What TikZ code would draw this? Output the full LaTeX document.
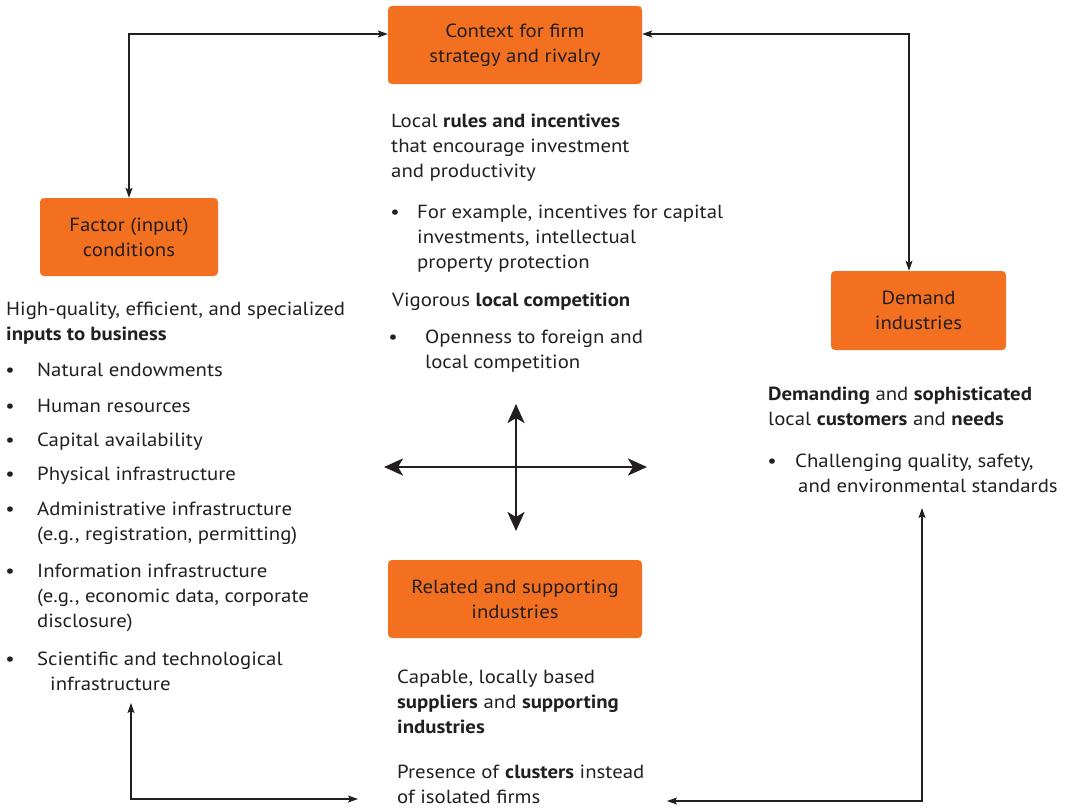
\documentclass[tikz,border=0pt]{standalone}
\usepackage{fontspec}
\setmainfont[FakeStretch=1.095]{PT Sans}
\usetikzlibrary{arrows.meta}
\definecolor{porange}{HTML}{F37021}
\definecolor{ink}{HTML}{231F20}

\begin{document}
\begin{tikzpicture}[x=1pt,y=-1pt,
  every node/.style={text=ink, inner sep=0pt, font=\fontsize{19}{25}\selectfont},
  box/.style={fill=porange, rounded corners=4pt, align=center, minimum height=78pt},
  para/.style={anchor=north west, align=left},
  dot/.style={anchor=base},
  con/.style={draw=ink, line width=1.2pt, {Stealth[length=10pt,width=7pt,inset=2pt]}-{Stealth[length=10pt,width=7pt,inset=2pt]}},
  crossarrow/.style={draw=ink, line width=2.8pt, {Stealth[length=19pt,width=17pt,inset=5pt]}-{Stealth[length=19pt,width=17pt,inset=5pt]}}
]
\useasboundingbox (0,0) rectangle (1070,808);

% the four determinants
\node[box, minimum width=254pt] (context) at (515,45) {Context for firm\\strategy and rivalry};
\node[box, minimum width=178pt] (factor) at (129,237) {Factor (input)\\conditions};
\node[box, minimum width=175pt, minimum height=79pt] (demand) at (918.5,310.5) {Demand\\industries};
\node[box, minimum width=254pt] (related) at (515,599) {Related and supporting\\industries};

% context for firm strategy and rivalry
\node[para] (c1) at (391,109.5) {\strut Local \textbf{rules and incentives}\\that encourage investment\\and productivity};
\node[dot] (c2b) at (395,218) {\textbullet};
\node[para] (c2) at (417,200.5) {\strut For example, incentives for capital\\investments, intellectual\\property protection};
\node[para] (c3) at (392,288.5) {\strut Vigorous \textbf{local competition}};
\node[dot] (c4b) at (393,343) {\textbullet};
\node[para] (c4) at (425,325.5) {\strut Openness to foreign and\\local competition};

% factor conditions
\node[para] (f0) at (6,297.5) {\strut High-quality, efficient, and specialized\\\textbf{inputs to business}};
\node[dot] (f1b) at (10,376) {\textbullet};
\node[para] (f1) at (37,358.5) {\strut Natural endowments};
\node[dot] (f2b) at (10,412) {\textbullet};
\node[para] (f2) at (37,394.5) {\strut Human resources};
\node[dot] (f3b) at (10,446) {\textbullet};
\node[para] (f3) at (37,428.5) {\strut Capital availability};
\node[dot] (f4b) at (10,480) {\textbullet};
\node[para] (f4) at (37,462.5) {\strut Physical infrastructure};
\node[dot] (f5b) at (10,515) {\textbullet};
\node[para] (f5) at (37,497.5) {\strut Administrative infrastructure\\(e.g., registration, permitting)};
\node[dot] (f6b) at (10,577) {\textbullet};
\node[para] (f6) at (37,559.5) {\strut Information infrastructure\\(e.g., economic data, corporate\\disclosure)};
\node[dot] (f7b) at (10,665) {\textbullet};
\node[para] (f7) at (37,647.5) {\strut Scientific and technological\\\hspace*{13pt}infrastructure};

% demand conditions
\node[para] (d1) at (768,382.5) {\strut\textbf{Demanding} and \textbf{sophisticated}\\local \textbf{customers} and \textbf{needs}};
\node[dot] (d2b) at (772,467) {\textbullet};
\node[para] (d2) at (795,449.5) {\strut Challenging quality, safety,\\\hspace*{3pt}and environmental standards};

% related and supporting industries
\node[para] (r1) at (397,665.5) {\strut Capable, locally based\\\textbf{suppliers} and \textbf{supporting}\\\textbf{industries}};
\node[para] (r2) at (397,760.5) {\strut Presence of \textbf{clusters} instead\\of isolated firms};

% links between the determinants
\draw[con] ([yshift=11pt]context.west) -| (factor.north);
\draw[con] ([yshift=11pt]context.east) -| ([xshift=-9.5pt]demand.north);

\coordinate (dtip) at (922,508);
\coordinate (rtip) at (667,801);
\draw[con] (dtip) |- (rtip);

\coordinate (ftip) at (131,703);
\coordinate (rltip) at (358,799);
\draw[con] (ftip) |- (rltip);

% central cross
\coordinate (cw) at (384,467);
\coordinate (ce) at (647,467);
\coordinate (cn) at (516,404);
\coordinate (cs) at (516,531);
\draw[crossarrow] (cw) -- (ce);
\draw[crossarrow] (cn) -- (cs);
\end{tikzpicture}
\end{document}
